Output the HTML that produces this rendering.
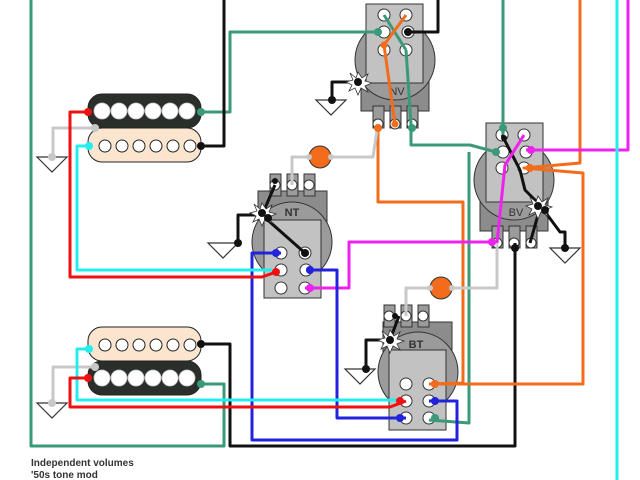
<!DOCTYPE html>
<html><head><style>html,body{margin:0;padding:0;background:#fff}svg{display:block}</style></head>
<body>
<svg width="640" height="480" viewBox="0 0 640 480" xmlns="http://www.w3.org/2000/svg" font-family="Liberation Sans, sans-serif">
<defs>
<g id="gnd"><polygon points="-15,0 15,0 0,15" fill="#fff" stroke="#333" stroke-width="1.2"/></g>
</defs>
<rect x="361" y="60" width="68" height="51" fill="#8c8c8c" stroke="#333"/>
<circle cx="395" cy="60" r="40" fill="#9b9b9b" stroke="#333"/>
<rect x="366" y="4" width="57" height="79" fill="#c2c2c2" stroke="#333"/>
<rect x="373" y="106" width="11" height="22" fill="#9b9b9b" stroke="#333"/>
<rect x="390" y="106" width="11" height="22" fill="#9b9b9b" stroke="#333"/>
<rect x="407" y="106" width="11" height="22" fill="#9b9b9b" stroke="#333"/>
<text x="397" y="95" font-size="11" fill="#333" text-anchor="middle">NV</text>
<rect x="480" y="190" width="68" height="41" fill="#8c8c8c" stroke="#333"/>
<circle cx="514" cy="180" r="40" fill="#9b9b9b" stroke="#333"/>
<rect x="486" y="123" width="57" height="79" fill="#c2c2c2" stroke="#333"/>
<rect x="492" y="226" width="11" height="22" fill="#9b9b9b" stroke="#333"/>
<rect x="509" y="226" width="11" height="22" fill="#9b9b9b" stroke="#333"/>
<rect x="526" y="226" width="11" height="22" fill="#9b9b9b" stroke="#333"/>
<text x="516" y="216" font-size="11" fill="#333" text-anchor="middle">BV</text>
<rect x="258" y="191" width="69" height="40" fill="#8c8c8c" stroke="#333"/>
<circle cx="292" cy="242" r="40" fill="#9b9b9b" stroke="#333"/>
<rect x="264" y="220" width="57" height="78" fill="#c2c2c2" stroke="#333"/>
<rect x="270" y="174" width="11" height="22" fill="#9b9b9b" stroke="#333"/>
<rect x="287" y="174" width="11" height="22" fill="#9b9b9b" stroke="#333"/>
<rect x="304" y="174" width="11" height="22" fill="#9b9b9b" stroke="#333"/>
<text x="292" y="216" font-size="11" fill="#333" text-anchor="middle" font-weight="bold">NT</text>
<rect x="383" y="322" width="69" height="40" fill="#8c8c8c" stroke="#333"/>
<circle cx="418" cy="372" r="40" fill="#9b9b9b" stroke="#333"/>
<rect x="389" y="350" width="57" height="80" fill="#c2c2c2" stroke="#333"/>
<rect x="384" y="305" width="11" height="22" fill="#9b9b9b" stroke="#333"/>
<rect x="401" y="305" width="11" height="22" fill="#9b9b9b" stroke="#333"/>
<rect x="418" y="305" width="11" height="22" fill="#9b9b9b" stroke="#333"/>
<text x="416" y="348" font-size="11" fill="#333" text-anchor="middle" font-weight="bold">BT</text>
<g fill="#fff" stroke="#333" stroke-width="1">
<circle cx="384" cy="15" r="6"/><circle cx="406" cy="15" r="6"/><circle cx="384" cy="32" r="6"/><circle cx="408" cy="32" r="6"/><circle cx="384" cy="50" r="6"/><circle cx="406" cy="50" r="6"/>
<circle cx="502" cy="135" r="6"/><circle cx="524" cy="135" r="6"/><circle cx="503" cy="152" r="6"/><circle cx="526" cy="152" r="6"/><circle cx="502" cy="168" r="6"/><circle cx="524" cy="168" r="6"/>
<circle cx="281" cy="253" r="6"/><circle cx="305" cy="253" r="6"/><circle cx="281" cy="270" r="6"/><circle cx="306" cy="270" r="6"/><circle cx="281" cy="288" r="6"/><circle cx="305" cy="288" r="6"/>
<circle cx="406" cy="384" r="6"/><circle cx="429" cy="384" r="6"/><circle cx="406" cy="401" r="6"/><circle cx="429" cy="401" r="6"/><circle cx="406" cy="418" r="6"/><circle cx="429" cy="418" r="6"/>
<circle cx="378" cy="124" r="5"/><circle cx="395" cy="124" r="5"/><circle cx="412" cy="124" r="5"/>
<circle cx="497" cy="243" r="5"/><circle cx="514" cy="243" r="5"/><circle cx="531" cy="243" r="5"/>
<circle cx="275" cy="185" r="5"/><circle cx="292" cy="185" r="5"/><circle cx="309" cy="185" r="5"/>
<circle cx="389" cy="316" r="5"/><circle cx="406" cy="316" r="5"/><circle cx="423" cy="316" r="5"/>
</g>
<rect x="88" y="94" width="113" height="34" rx="14" fill="#2b2f2b" stroke="#222"/>
<rect x="88" y="128" width="113" height="34" rx="14" fill="#fbe5cf" stroke="#222"/>
<rect x="88" y="327" width="113" height="34" rx="14" fill="#fbe5cf" stroke="#222"/>
<rect x="88" y="361" width="113" height="34" rx="14" fill="#2b2f2b" stroke="#222"/>
<g fill="#fff" stroke="#ccc" stroke-width="0.8">
<circle cx="102" cy="111" r="8"/><circle cx="119" cy="111" r="8"/><circle cx="136" cy="111" r="8"/><circle cx="153" cy="111" r="8"/><circle cx="170" cy="111" r="8"/><circle cx="187" cy="111" r="8"/>
<circle cx="102" cy="378" r="8"/><circle cx="119" cy="378" r="8"/><circle cx="136" cy="378" r="8"/><circle cx="153" cy="378" r="8"/><circle cx="170" cy="378" r="8"/><circle cx="187" cy="378" r="8"/>
</g>
<g fill="#fff" stroke="#222" stroke-width="1">
<circle cx="105" cy="146" r="6"/><circle cx="122" cy="146" r="6"/><circle cx="139" cy="146" r="6"/><circle cx="156" cy="146" r="6"/><circle cx="173" cy="146" r="6"/><circle cx="190" cy="146" r="6"/>
<circle cx="105" cy="345" r="6"/><circle cx="122" cy="345" r="6"/><circle cx="139" cy="345" r="6"/><circle cx="156" cy="345" r="6"/><circle cx="173" cy="345" r="6"/><circle cx="190" cy="345" r="6"/>
</g>
<use href="#gnd" x="52" y="157"/><use href="#gnd" x="52" y="403"/>
<use href="#gnd" x="331" y="100"/><use href="#gnd" x="223" y="243"/>
<use href="#gnd" x="360" y="369"/><use href="#gnd" x="565" y="248"/>
<circle cx="320" cy="157" r="11" fill="#f26c1c" stroke="#333"/>
<circle cx="441" cy="288" r="11" fill="#f26c1c" stroke="#333"/>
<g fill="none" stroke-width="3" stroke-linejoin="round">
<g stroke="#3a9a78">
<polyline points="31,0 31,446 224,446 224,384 201,384"/>
<polyline points="201,112 230,112 230,32 378,32"/>
<polyline points="384,15 406,50"/>
<polyline points="406,50 411,124 411,145 470,145 496,152"/>
<polyline points="503,0 503,135"/>
<polyline points="469,152 469,423 429,420"/>
</g>
<g stroke="#111">
<polyline points="201,146 224,146 224,0"/>
<polyline points="408,32 438,32 438,0"/>
<polyline points="201,344 230,344 230,446 515,446 515,243"/>
<polyline points="358,82 332,82 332,100"/>
<polyline points="502,135 520,170 525,190 540,205 560,232 565,232 565,248"/>
<polyline points="538,215 530,243"/>
<polyline points="262,215 238,215 238,243"/>
<polyline points="262,215 275,185"/>
<polyline points="262,215 305,253"/>
<polyline points="390,340 366,340 366,369"/>
<polyline points="390,340 399,316"/>
</g>
<g stroke="#f26c1c">
<polyline points="406,15 384,45 395,124"/>
<polyline points="378,124 378,202 463,202 463,383 429,384"/>
<polyline points="580,0 580,163 524,168 583,173 583,384 440,384"/>
</g>
<g stroke="#ee22ee">
<polyline points="628,0 628,150 526,150"/>
<polyline points="524,135 505,165 497,243"/>
<polyline points="305,288 349,288 349,242 497,242"/>
</g>
<g stroke="#c8c8c8">
<polyline points="95,128 53,128 53,157"/>
<polyline points="95,367 53,367 53,403"/>
<polyline points="309,157 292,157 292,185"/>
<polyline points="331,157 373,157 378,124"/>
<polyline points="430,288 406,288 406,316"/>
<polyline points="452,288 497,288 497,243"/>
</g>
<g stroke="#2222dd">
<polyline points="281,253 252,253 252,440 457,440 457,401 429,401"/>
<polyline points="306,270 337,270 337,418 406,418"/>
</g>
<g stroke="#22eeee">
<polyline points="89,146 77,146 77,270 272,270"/>
<polyline points="89,349 77,349 77,400 400,400"/>
<polyline points="617,0 617,480"/>
</g>
<g stroke="#ee1111">
<polyline points="88,112 70,112 70,277 262,277 276,272"/>
<polyline points="88,378 70,378 70,407 390,407 406,401"/>
</g>
</g>
<g>
<circle cx="88" cy="112" r="4" fill="#ee1111"/><circle cx="201" cy="112" r="4" fill="#3a9a78"/>
<circle cx="89" cy="146" r="4" fill="#22eeee"/><circle cx="201" cy="146" r="4" fill="#111"/><circle cx="95" cy="128" r="4" fill="#c8c8c8"/>
<circle cx="89" cy="349" r="4" fill="#22eeee"/><circle cx="201" cy="344" r="4" fill="#111"/><circle cx="95" cy="367" r="4" fill="#c8c8c8"/>
<circle cx="88" cy="378" r="4" fill="#ee1111"/><circle cx="201" cy="384" r="4" fill="#3a9a78"/>
<circle cx="378" cy="32" r="4" fill="#3a9a78"/><circle cx="408" cy="32" r="4" fill="#111"/>
<circle cx="378" cy="128" r="4" fill="#f26c1c"/><circle cx="412" cy="128" r="4" fill="#3a9a78"/>
<circle cx="496" cy="152" r="4" fill="#3a9a78"/><circle cx="531" cy="150" r="4" fill="#ee22ee"/><circle cx="530" cy="168" r="4" fill="#f26c1c"/>
<circle cx="503" cy="128" r="4" fill="#3a9a78"/><circle cx="492" cy="242" r="4" fill="#ee22ee"/><circle cx="515" cy="248" r="4" fill="#111"/>
<circle cx="276" cy="253" r="4" fill="#2222dd"/><circle cx="276" cy="272" r="4" fill="#ee1111"/><circle cx="310" cy="270" r="4" fill="#2222dd"/><circle cx="310" cy="288" r="4" fill="#ee22ee"/>
<circle cx="400" cy="401" r="4" fill="#ee1111"/><circle cx="400" cy="418" r="4" fill="#2222dd"/><circle cx="435" cy="384" r="4" fill="#f26c1c"/><circle cx="435" cy="401" r="4" fill="#2222dd"/><circle cx="435" cy="418" r="4" fill="#3a9a78"/>
<circle cx="332" cy="100" r="4" fill="#111"/><circle cx="238" cy="243" r="4" fill="#111"/><circle cx="366" cy="369" r="4" fill="#111"/><circle cx="565" cy="248" r="4" fill="#111"/>
<circle cx="52" cy="157" r="4" fill="#c8c8c8"/><circle cx="52" cy="403" r="4" fill="#c8c8c8"/>
<circle cx="309" cy="157" r="3" fill="#c8c8c8"/><circle cx="331" cy="157" r="3" fill="#c8c8c8"/><circle cx="430" cy="288" r="3" fill="#c8c8c8"/><circle cx="452" cy="288" r="3" fill="#c8c8c8"/>
</g>
<g fill="#fff" stroke="#333" stroke-width="0.8">
<polygon points="358,72 362,78 368,74 365,81 372,83 365,86 368,92 361,88 358,95 355,88 349,91 352,85 346,82 353,80 350,73 356,78"/>
<polygon points="538,196 542,202 548,198 545,205 552,207 545,210 548,216 541,212 538,219 535,212 529,215 532,209 526,206 533,204 530,197 536,202"/>
<polygon points="262,203 266,209 272,205 269,212 276,214 269,217 272,223 265,219 262,226 259,219 253,222 256,216 250,213 257,211 254,204 260,209"/>
<polygon points="390,330 394,336 400,332 397,339 404,341 397,344 400,350 393,346 390,353 387,346 381,349 384,343 378,340 385,338 382,331 388,336"/>
</g>
<g fill="#111"><circle cx="358" cy="82" r="4"/><circle cx="538" cy="206" r="4"/><circle cx="545" cy="210" r="4"/><circle cx="262" cy="213" r="4"/><circle cx="268" cy="218" r="4"/><circle cx="390" cy="340" r="4"/><circle cx="395" cy="316" r="3"/><circle cx="275" cy="181" r="3"/><circle cx="305" cy="253" r="4"/><circle cx="504" cy="138" r="3"/></g>
<circle cx="384" cy="45" r="3.5" fill="#f26c1c"/><circle cx="395" cy="124" r="3.5" fill="#f26c1c"/>
<text x="31" y="466" font-size="10" font-weight="bold" fill="#333">Independent volumes</text>
<text x="31" y="478" font-size="10" font-weight="bold" fill="#333">'50s tone mod</text>
</svg>
</body></html>
